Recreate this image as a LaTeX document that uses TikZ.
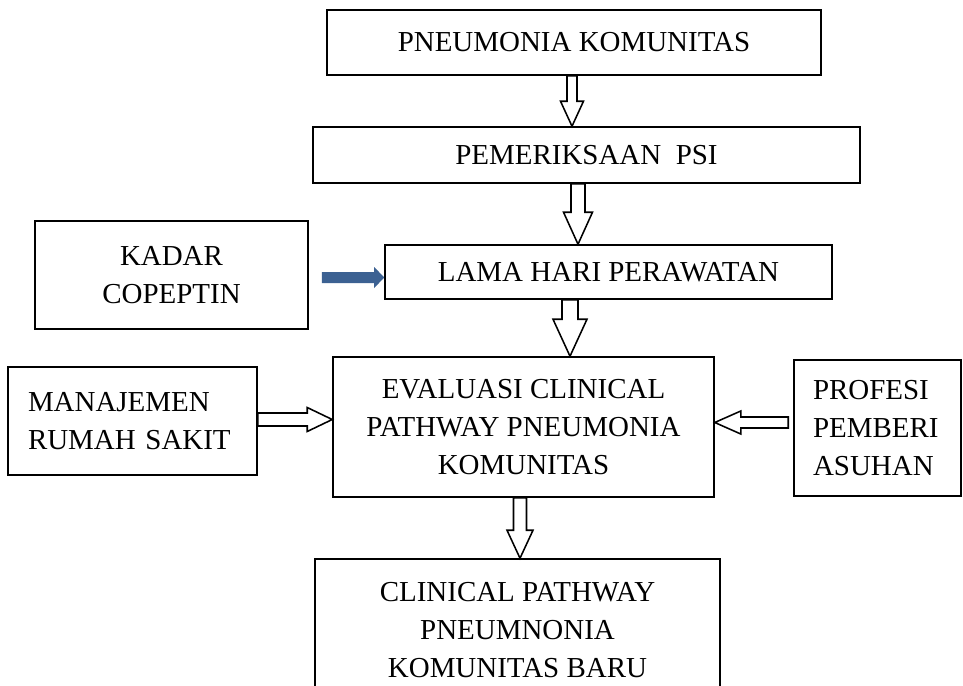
\documentclass[tikz,border=0pt]{standalone}
\usepackage{fontspec}
\setmainfont{Liberation Serif}
\usetikzlibrary{calc}
\definecolor{arrowblue}{HTML}{3C6192}

\begin{document}
\begin{tikzpicture}[
  box/.style={rectangle, draw=black, line width=1.1pt, align=center,
              inner sep=0pt, font=\fontsize{20.6}{27}\selectfont},
  hollow/.style={draw=black, fill=white, line width=1.1pt, line join=miter},
  vblk/.style n args={3}{to path={let \p1=(\tikztostart), \p2=(\tikztotarget) in
      (\x1-#1,\y1) -- (\x1+#1,\y1) -- (\x1+#1,\y2+#3) -- (\x1+#2,\y2+#3)
      -- (\x1,\y2) -- (\x1-#2,\y2+#3) -- (\x1-#1,\y2+#3) -- cycle}},
  rblk/.style n args={3}{to path={let \p1=(\tikztostart), \p2=(\tikztotarget) in
      (\x1,\y1-#1) -- (\x1,\y1+#1) -- (\x2-#3,\y1+#1) -- (\x2-#3,\y1+#2)
      -- (\x2,\y1) -- (\x2-#3,\y1-#2) -- (\x2-#3,\y1-#1) -- cycle}},
  lblk/.style n args={3}{to path={let \p1=(\tikztostart), \p2=(\tikztotarget) in
      (\x1,\y1-#1) -- (\x1,\y1+#1) -- (\x2+#3,\y1+#1) -- (\x2+#3,\y1+#2)
      -- (\x2,\y1) -- (\x2+#3,\y1-#2) -- (\x2+#3,\y1-#1) -- cycle}}
]
\useasboundingbox (0,0) rectangle (24.075,-17.15);

%% Main column
\node[box, minimum width=12.35cm, minimum height=1.625cm] (pneu) at (14.35,-1.0625) {PNEUMONIA KOMUNITAS};
\node[box, minimum width=13.675cm, minimum height=1.4cm] (psi) at (14.6625,-3.875) {PEMERIKSAAN\ \ PSI};
\node[box, minimum width=11.175cm, minimum height=1.35cm] (lama) at (15.2125,-6.8) {LAMA HARI PERAWATAN};
\node[box, minimum width=9.525cm, minimum height=3.5cm] (eval) at (13.0875,-10.675) {EVALUASI CLINICAL\\PATHWAY PNEUMONIA\\KOMUNITAS};
\node[box, minimum width=10.125cm, minimum height=3.55cm] (baru) at (12.9375,-15.75) {CLINICAL PATHWAY\\PNEUMNONIA\\KOMUNITAS BARU};

%% Side boxes
\node[box, minimum width=6.825cm, minimum height=2.7cm] (kadar) at (4.2875,-6.875) {KADAR\\COPEPTIN};
\node[box, minimum width=6.225cm, minimum height=2.7cm, text width=5.225cm, align=left] (manaj) at (3.3125,-10.525) {MANAJEMEN\\RUMAH SAKIT};
\node[box, minimum width=4.175cm, minimum height=3.4cm, text width=3.225cm, align=left] (profesi) at (21.9375,-10.7) {PROFESI\\PEMBERI\\ASUHAN};

%% Arrows
\draw[hollow, vblk={0.125cm}{0.2875cm}{0.625cm}] ([xshift=-0.05cm]pneu.south) to (psi.north);
\draw[hollow, vblk={0.175cm}{0.3625cm}{0.8cm}] ([xshift=-0.2125cm]psi.south) to (lama.north);
\draw[hollow, vblk={0.2cm}{0.425cm}{0.925cm}] ([xshift=-0.9625cm]lama.south) to (eval.north);
\draw[hollow, vblk={0.1625cm}{0.325cm}{0.7cm}] ([xshift=-0.0875cm]eval.south) to (baru.north);
\draw[hollow, rblk={0.1625cm}{0.3cm}{0.625cm}] ([yshift=0.0375cm]manaj.east) to (eval.west);
\draw[hollow, lblk={0.1375cm}{0.2875cm}{0.65cm}] ([xshift=-0.125cm, yshift=0.1375cm]profesi.west) to (eval.east);
\fill[arrowblue, rblk={0.1375cm}{0.2625cm}{0.25cm}] ([xshift=0.325cm, yshift=-0.0625cm]kadar.east) to (lama.west);
\end{tikzpicture}
\end{document}
